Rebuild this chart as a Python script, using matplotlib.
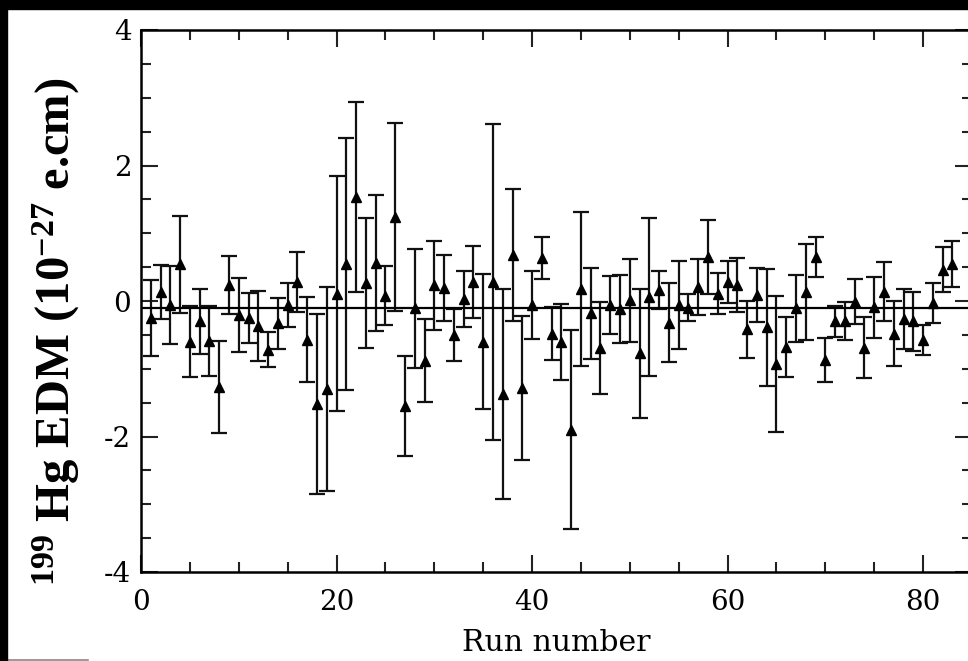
import matplotlib
matplotlib.use("Agg")
import matplotlib.pyplot as plt
from matplotlib.patches import Rectangle
from matplotlib.lines import Line2D
from matplotlib.ticker import MultipleLocator

# run-by-run EDM values (10^-27 e.cm) and their 1-sigma errors
runs = list(range(1, 84))
edm = [-0.25, 0.13, -0.06, 0.54, -0.60, -0.30, -0.59, -1.27, 0.24, -0.21,
       -0.25, -0.37, -0.72, -0.33, -0.06, 0.28, -0.57, -1.52, -1.30, 0.11,
       0.54, 1.53, 0.26, 0.56, 0.08, 1.24, -1.55, -0.11, -0.88, 0.23,
       0.19, -0.50, 0.03, 0.28, -0.60, 0.28, -1.37, 0.68, -1.28, -0.06,
       0.64, -0.48, -0.60, -1.90, 0.18, -0.18, -0.69, -0.06, -0.12, 0.01,
       -0.77, 0.06, 0.16, -0.32, -0.06, -0.10, 0.21, 0.65, 0.11, 0.28,
       0.24, -0.42, 0.09, -0.39, -0.93, -0.68, -0.11, 0.13, 0.65, -0.87,
       -0.30, -0.30, -0.01, -0.69, -0.09, 0.14, -0.48, -0.27, -0.30, -0.58,
       -0.03, 0.46, 0.54]
edm_err = [0.56, 0.40, 0.58, 0.71, 0.52, 0.48, 0.52, 0.68, 0.43, 0.55,
           0.37, 0.52, 0.26, 0.38, 0.32, 0.44, 0.63, 1.33, 1.51, 1.74,
           1.86, 1.40, 0.96, 1.00, 0.44, 1.39, 0.74, 0.88, 0.61, 0.66,
           0.49, 0.38, 0.42, 0.53, 1.00, 2.33, 1.55, 0.98, 1.06, 0.50,
           0.31, 0.39, 0.56, 1.47, 1.14, 0.67, 0.68, 0.43, 0.50, 0.61,
           0.95, 1.16, 0.28, 0.58, 0.65, 0.20, 0.41, 0.55, 0.30, 0.31,
           0.40, 0.42, 0.40, 0.86, 1.00, 0.44, 0.50, 0.71, 0.30, 0.32,
           0.23, 0.28, 0.33, 0.45, 0.45, 0.43, 0.48, 0.44, 0.44, 0.22,
           0.29, 0.33, 0.34]
mean_edm = -0.1

plt.rcParams['axes.unicode_minus'] = False
plt.rcParams['mathtext.fontset'] = 'custom'
plt.rcParams['mathtext.rm'] = 'Liberation Serif:bold'
plt.rcParams['mathtext.bf'] = 'Liberation Serif:bold'
plt.rcParams['mathtext.it'] = 'Liberation Serif:bold:italic'

W, H = 968, 661
fig = plt.figure(figsize=(W / 100, H / 100), dpi=100)
fig.patch.set_facecolor('white')

# axes run past the right edge, like the cropped original
x0, x1, y0, y1 = 141, 972, 30, 572
ax = fig.add_axes([x0 / W, 1 - y1 / H, (x1 - x0) / W, (y1 - y0) / H])

ax.errorbar(runs, edm, yerr=edm_err, fmt='^', color='black', ms=6.5,
            ecolor='#111111', elinewidth=1.6, capsize=5.5, capthick=1.6)
ax.axhline(mean_edm, color='black', lw=1.6)

ax.set_xlim(0, 85)
ax.set_ylim(-4, 4)
ax.xaxis.set_major_locator(MultipleLocator(20))
ax.xaxis.set_minor_locator(MultipleLocator(5))
ax.yaxis.set_major_locator(MultipleLocator(2))
ax.yaxis.set_minor_locator(MultipleLocator(0.5))
ax.tick_params(which='both', direction='in', top=True, right=True,
               width=1.5, color='#222222')
ax.tick_params(which='major', length=12)
ax.tick_params(which='minor', length=7)
ax.tick_params(axis='x', which='major', pad=12)
ax.tick_params(axis='y', which='major', pad=7)
for lab in ax.get_xticklabels() + ax.get_yticklabels():
    lab.set_family('DejaVu Serif')
    lab.set_fontsize(20)
for s in ax.spines.values():
    s.set_linewidth(1.8)

fig.text(556 / W, 1 - 643 / H, 'Run number', ha='center', va='center',
         family='DejaVu Serif', fontsize=21.5)
fig.text(56 / W, 1 - 332 / H,
         r'$^{\mathrm{199}}$ Hg EDM (10$^{\mathrm{-27}}$ e.cm)',
         rotation=90, ha='center', va='center', fontsize=35,
         family='Liberation Serif', fontweight='bold')

# black border of the scanned figure
fig.add_artist(Rectangle((0, 1 - 9 / H), 1, 9 / H, transform=fig.transFigure,
                         color='black', zorder=10))
fig.add_artist(Rectangle((0, 0), 7 / W, 1, transform=fig.transFigure,
                         color='black', zorder=10))
fig.add_artist(Line2D([0, 88 / W], [1.5 / H, 1.5 / H], transform=fig.transFigure,
                      color='#888888', lw=1.2))

fig.savefig('out.png', dpi=100)
